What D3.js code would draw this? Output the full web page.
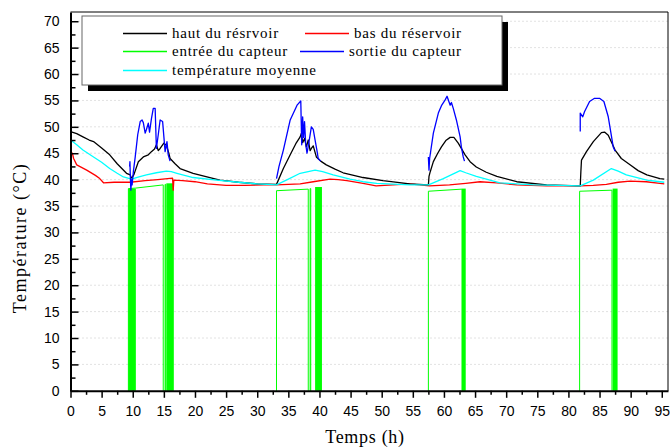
<!DOCTYPE html>
<html>
<head>
<meta charset="utf-8">
<script src="https://cdn.jsdelivr.net/npm/d3@7"></script>
<style>
  body { margin: 0; background: #fff; }
  svg { display: block; }
  .tick text { font-family: "Liberation Sans", Arial, sans-serif; font-size: 14px; fill: #000; }
</style>
</head>
<body>
<div id="chart"></div>
<script>

// time axis (h) and temperatures (°C)
var hautT = [0, 1, 2, 3, 3.7, 5, 6.3, 7.5, 9, 9.6, 9.8, 10.2, 10.9, 11.7, 12.5, 13, 13.5, 13.8, 14.1, 14.4, 15, 15.4, 15.8, 16, 16.8, 17.6, 19.7, 22.4, 24, 27, 30, 33.1,
	34.2, 35.3, 36.2, 36.9, 37.1, 37.3, 37.6, 37.9, 38.2, 38.5, 38.7, 39, 39.5, 40.2, 41.1, 42.5, 43.8, 45.5, 47, 50.2, 54.5, 57.5,
	57.6, 57.8, 58.3, 59, 59.6, 60.3, 61, 61.6, 62.3, 63.4, 64.2, 65.2, 66.8, 68.5, 71.7, 76.5, 81.9,
	82, 82.1, 82.9, 84, 85.3, 85.8, 86.4, 87.5, 88.5, 89.9, 91.2, 92.6, 94.7, 95.4];
var hautV = [49.1, 48.7, 48.1, 47.5, 47.2, 46.0, 44.7, 43.0, 41.2, 40.9, 40.2, 41.0, 43.4, 44.3, 44.7, 45.3, 45.8, 46.6, 45.5, 45.9, 46.9, 46.5, 45.0, 44.0, 43.0, 42.1, 41.2, 40.4, 39.9, 39.5, 39.2, 39.1,
	42.1, 44.7, 46.8, 48.1, 48.8, 47.0, 47.8, 46.2, 47.5, 45.5, 45.9, 46.4, 44.3, 43.5, 42.8, 42.0, 41.3, 40.8, 40.4, 39.8, 39.2, 39.0,
	40.6, 41.5, 43.4, 45.0, 46.2, 47.4, 48.0, 48.0, 46.9, 44.7, 43.4, 42.4, 41.4, 40.6, 39.6, 39.0, 38.8,
	41.5, 43.7, 45.3, 47.2, 48.9, 49.0, 48.4, 45.6, 44.0, 42.8, 41.7, 40.9, 40.2, 40.1];

var basT = [0, 0.3, 0.5, 1, 2.6, 4, 4.7, 5.3, 7, 9.6, 12, 14, 16.4, 16.5, 16.6, 18, 20, 22, 25, 28, 31, 33.1, 36.9, 39, 41.7, 43, 44.4, 47, 49.1, 51.8, 54.5, 56,
	57.7, 60.9, 63.5, 65.8, 68.5, 71.7, 76.5, 81.9, 84, 86.1, 88, 89.9, 92.5, 94.7, 95.4];
var basV = [45.3, 45.0, 44.0, 42.8, 41.8, 40.8, 40.2, 39.4, 39.5, 39.5, 39.8, 40.0, 40.3, 38.0, 39.9, 39.8, 39.6, 39.2, 38.9, 38.9, 39.0, 39.0, 39.2, 39.6, 40.1, 40.0, 39.8, 39.3, 38.8, 39.0, 39.2, 39.0,
	38.8, 39.0, 39.3, 39.6, 39.4, 39.0, 38.8, 38.8, 38.9, 39.1, 39.5, 39.7, 39.6, 39.3, 39.2];

var moyT = [0, 1, 2, 3.7, 5, 6.3, 7.5, 8.5, 9.8, 11, 12.2, 13.8, 15.4, 16.2, 17.1, 19.7, 23.5, 27, 30, 33.1, 35, 36.9, 39.3, 40.5, 42.2, 44.9, 47, 49.2, 54.5,
	57.5, 59.9, 62.6, 63.5, 65.2, 69, 74.4, 81.9, 84, 86.9, 88, 89.3, 92.6, 94.7, 95.4];
var moyV = [47.5, 46.6, 45.6, 44.3, 43.3, 42.1, 41.2, 40.5, 40.1, 40.5, 40.9, 41.3, 41.6, 41.5, 41.2, 40.4, 39.9, 39.5, 39.2, 39.0, 40.1, 41.2, 41.8, 41.5, 40.9, 40.1, 39.6, 39.3, 39.0,
	39.0, 40.2, 41.7, 41.3, 40.6, 39.4, 39.0, 38.8, 39.9, 42.1, 41.6, 40.9, 39.9, 39.6, 39.5];

// sortie du capteur: only while the pump runs, null = gap
var sortieT = [9.5, 9.55, 9.6, 9.7, 9.8, 9.9, 10.1, 10.4, 10.8, 11.2, 11.5, 11.7, 12, 12.2, 12.5, 12.7, 13, 13.3, 13.6, 13.8, 14.1, 14.4, 14.8, 15.2, 15.5, 15.7, 16, null,
	33.1, 33.5, 34.2, 35.3, 36.4, 37, 37.15, 37.3, 37.45, 37.6, 37.8, 38, 38.3, 38.7, 39, 39.3, 39.6, 39.8, 40.2, null,
	57.5, 57.6, 57.7, 58.3, 59.1, 59.6, 60.2, 60.5, 61, 61.2, 61.5, 62, 62.6, 62.8, 63.1, 63.3, null,
	81.9, 81.9, 82.3, 82.6, 83.4, 84.2, 85, 85.7, 86.4, 87.2, 87.5];
var sortieV = [42.5, 43.4, 41.0, 38.0, 40.0, 39.0, 41.5, 44.3, 48.5, 51.0, 51.3, 50.8, 48.8, 49.5, 50.7, 49.0, 51.5, 53.5, 53.5, 45.9, 48.5, 51.3, 51.0, 45.3, 47.2, 44.7, 43.5, null,
	40.2, 42.5, 45.6, 51.3, 54.1, 54.9, 46.6, 51.9, 48.0, 51.0, 46.6, 45.0, 47.0, 50.0, 49.5, 47.5, 45.5, 44.0, 43.5, null,
	44.3, 41.8, 44.0, 48.8, 52.6, 54.0, 55.1, 55.8, 54.1, 54.6, 53.5, 51.3, 48.1, 46.2, 44.3, 43.5, null,
	49.1, 52.6, 51.9, 52.9, 54.8, 55.4, 55.4, 54.8, 51.9, 46.2, 45.4];

// entrée du capteur: steady part while the pump runs (0 when off, null = gap)
var entreeT = [9.3, 9.3, 10.5, 14.9, 14.9, null, 15.2, 15.2, 15.3, 15.3, null, 33.1, 33.1, 38.2, 38.2, null, 38.5, 38.5, 38.6, 38.6, null,
	57.5, 57.5, 62.9, 62.9, null, 81.8, 81.8, 87.0, 87.0];
var entreeV = [0, 38.3, 38.4, 39.0, 0, null, 0, 39.1, 39.1, 0, null, 0, 37.9, 38.2, 0, null, 0, 38.3, 38.3, 0, null,
	0, 37.8, 38.2, 0, null, 0, 37.8, 38.0, 0];
// entrée du capteur: pump cycling on/off very fast (start, end, top)
var cycleStart = [9.3, 15.4, 39.3, 62.9, 87.1];
var cycleEnd = [10.5, 16.6, 40.4, 63.5, 87.9];
var cycleTop = [38.3, 39.3, 38.6, 38.3, 38.3];

var xTicks = [0, 5, 10, 15, 20, 25, 30, 35, 40, 45, 50, 55, 60, 65, 70, 75, 80, 85, 90, 95];
var yTicks = [0, 5, 10, 15, 20, 25, 30, 35, 40, 45, 50, 55, 60, 65, 70];

var legendLabels = ["haut du résrvoir", "bas du réservoir", "entrée du capteur", "sortie du capteur", "température moyenne"];
var legendColors = ["#000000", "#ff0000", "#00ff00", "#0000ff", "#00ffff"];

var W = 670, H = 448,
	margin = {left: 70.5, top: 12, right: 2, bottom: 57.2},
	pw = W - margin.left - margin.right,
	ph = H - margin.top - margin.bottom;

var svg = d3.select("#chart").append("svg")
	.attr("width", W)
	.attr("height", H);

var g = svg.append("g")
	.attr("transform", "translate(" + margin.left + "," + margin.top + ")");

var x = d3.scaleLinear().domain([0, 96]).range([0, pw]);
var y = d3.scaleLinear().domain([0, 71.75]).range([ph, 0]);

// dotted grid
g.append("g").selectAll("line")
	.data(yTicks.filter(function(d){ return d > 0; }))
	.enter().append("line")
	.attr("x1", 0).attr("x2", pw)
	.attr("y1", function(d){ return y(d); })
	.attr("y2", function(d){ return y(d); })
	.attr("stroke", "#c4c4c4")
	.attr("stroke-dasharray", "1,3");

// frame top / right
g.append("path")
	.attr("d", "M0,0H" + pw + "V" + ph)
	.attr("fill", "none")
	.attr("stroke", "#000")
	.attr("stroke-width", 1);

var line = d3.line()
	.defined(function(d){ return d[1] != null; })
	.x(function(d){ return x(d[0]); })
	.y(function(d){ return y(d[1]); });

var plot = g.append("g");

// entrée du capteur
plot.selectAll("rect.cycle")
	.data(d3.zip(cycleStart, cycleEnd, cycleTop))
	.enter().append("rect")
	.attr("class", "cycle")
	.attr("x", function(d){ return x(d[0]); })
	.attr("width", function(d){ return x(d[1]) - x(d[0]); })
	.attr("y", function(d){ return y(d[2]); })
	.attr("height", function(d){ return y(0) - y(d[2]); })
	.attr("fill", "#00ff00");

var series = [
	{t: entreeT, v: entreeV, color: legendColors[2], w: 1},
	{t: basT, v: basV, color: legendColors[1], w: 1.3},
	{t: hautT, v: hautV, color: legendColors[0], w: 1.3},
	{t: moyT, v: moyV, color: legendColors[4], w: 1.3},
	{t: sortieT, v: sortieV, color: legendColors[3], w: 1.3}
];

plot.selectAll("path.serie")
	.data(series)
	.enter().append("path")
	.attr("class", "serie")
	.attr("d", function(s){ return line(d3.zip(s.t, s.v)); })
	.attr("fill", "none")
	.attr("stroke", function(s){ return s.color; })
	.attr("stroke-width", function(s){ return s.w; })
	.attr("stroke-linejoin", "round");

// axes
var xMinor = xTicks.map(function(d){ return d + 2.5; });
var yMinor = yTicks.slice(0, -1).map(function(d){ return d + 2.5; });

g.append("g")
	.attr("transform", "translate(0," + ph + ")")
	.call(d3.axisBottom(x).tickValues(xMinor).tickSize(4).tickFormat("").tickSizeOuter(0))
	.call(function(a){ a.select(".domain").remove(); a.selectAll("line").attr("stroke-width", 1.5); });

g.append("g")
	.attr("transform", "translate(0," + ph + ")")
	.call(d3.axisBottom(x).tickValues(xTicks).tickSize(7).tickPadding(8).tickSizeOuter(0))
	.call(function(a){
		a.select(".domain").attr("stroke-width", 2);
		a.selectAll("line").attr("stroke-width", 1.5);
	});

g.append("g")
	.call(d3.axisLeft(y).tickValues(yMinor).tickSize(-5).tickFormat("").tickSizeOuter(0))
	.call(function(a){ a.select(".domain").remove(); a.selectAll("line").attr("stroke-width", 1.5); });

g.append("g")
	.call(d3.axisLeft(y).tickValues(yTicks).tickSize(-8).tickPadding(11).tickSizeOuter(0))
	.call(function(a){
		a.select(".domain").attr("stroke-width", 2);
		a.selectAll("line").attr("stroke-width", 1.5);
	});

// titles
svg.append("text")
	.attr("x", 365).attr("y", 443)
	.attr("text-anchor", "middle")
	.style("font-family", "'Liberation Serif', 'Times New Roman', serif")
	.style("font-size", "18px")
	.style("letter-spacing", "0.7px")
	.text("Temps (h)");

svg.append("text")
	.attr("transform", "translate(26,238) rotate(-90)")
	.attr("text-anchor", "middle")
	.style("font-family", "'Liberation Serif', 'Times New Roman', serif")
	.style("font-size", "18px")
	.style("letter-spacing", "1.5px")
	.text("Température (°C)");

// legend with drop shadow
var leg = svg.append("g");
leg.append("rect")
	.attr("x", 88).attr("y", 22).attr("width", 420).attr("height", 69)
	.attr("fill", "#000");
leg.append("rect")
	.attr("x", 82).attr("y", 16).attr("width", 420).attr("height", 69)
	.attr("fill", "#fff")
	.attr("stroke", "#666")
	.attr("stroke-width", 1);

var legPos = [[123, 33.5], [305, 33.5], [123, 51.5], [300, 51.5], [123, 70.5]];

var items = leg.selectAll("g.item")
	.data(legendLabels)
	.enter().append("g")
	.attr("class", "item")
	.attr("transform", function(d, i){ return "translate(" + legPos[i][0] + "," + legPos[i][1] + ")"; });

items.append("line")
	.attr("x1", 0).attr("x2", 44)
	.attr("stroke", function(d, i){ return legendColors[i]; })
	.attr("stroke-width", 1.5);

items.append("text")
	.attr("x", 49).attr("dy", "0.32em")
	.style("font-family", "'Liberation Serif', 'Times New Roman', serif")
	.style("font-size", "15px")
	.style("letter-spacing", "0.75px")
	.text(function(d){ return d; });

</script>
</body>
</html>
